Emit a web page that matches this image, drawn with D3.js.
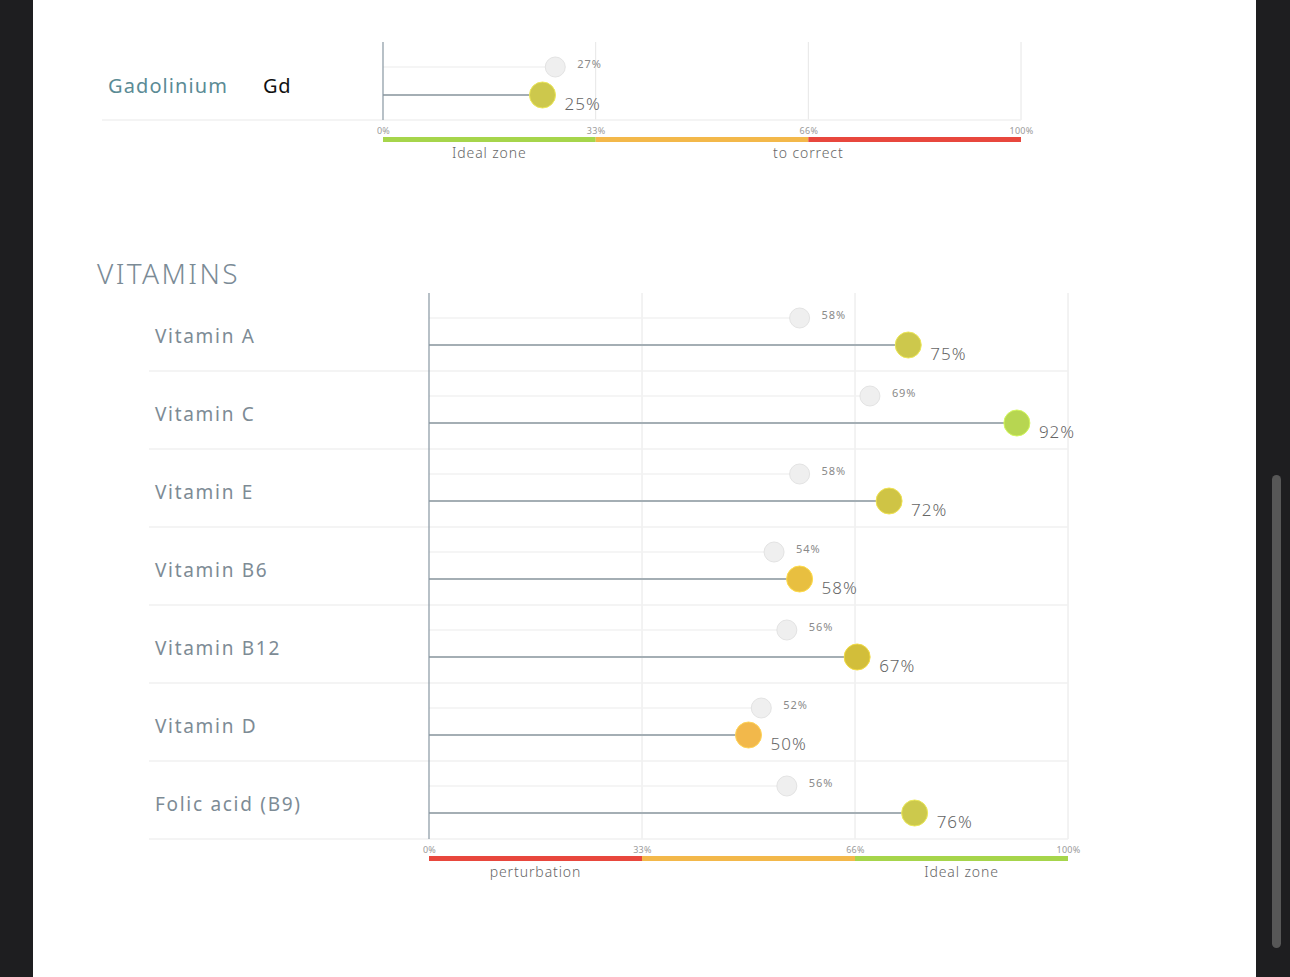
<!DOCTYPE html>
<html lang="en">
<head>
    <meta charset="UTF-8">
    <title>Gadolinium / Vitamins</title>
    <script src="https://cdn.jsdelivr.net/npm/d3@7"></script>
    <style>
        body { margin: 0; background: #1e1e20; overflow: hidden; }
        svg { display: block; font-family: "Noto Sans", "Open Sans", sans-serif; }
        .grid line { stroke: #e6e6e6; stroke-width: 1; }
        .axis path, .axis line { display: none; }
        .axis text { font-size: 9px; fill: #9a9a9a; font-family: "Noto Sans", sans-serif; letter-spacing: 0.3px; }
        .row-sep { stroke: #f0f0f0; stroke-width: 1.5; }
        .zone-label { font-size: 14px; fill: #666; text-anchor: middle; font-weight: 300; letter-spacing: 0.9px; }
    </style>
</head>
<body>
<script>
    /* ---------------- data ---------------- */
    let elementName = ["Gadolinium"],
        elementSymbol = ["Gd"],
        elementCurrent = [25],
        elementPrevious = [27];

    let vitamins = ["Vitamin A", "Vitamin C", "Vitamin E", "Vitamin B6", "Vitamin B12", "Vitamin D", "Folic acid (B9)"],
        vitaminCurrent = [75, 92, 72, 58, 67, 50, 76],
        vitaminPrevious = [58, 69, 58, 54, 56, 52, 56];

    let tickValues = [0, 100 / 3, 200 / 3, 100],
        tickLabels = ["0%", "33%", "66%", "100%"];

    // zone bands: [from, to, kind]
    let elementZones = [[0, 100 / 3, "ideal"], [100 / 3, 200 / 3, "warn"], [200 / 3, 100, "bad"]],
        vitaminZones = [[0, 100 / 3, "bad"], [100 / 3, 200 / 3, "warn"], [200 / 3, 100, "ideal"]];

    let elementZoneText = [[0, 100 / 3, "Ideal zone"], [100 / 3, 100, "to correct"]],
        vitaminZoneText = [[0, 100 / 3, "perturbation"], [200 / 3, 100, "Ideal zone"]];

    /* ---------------- colours ---------------- */
    let zoneColor = d3.scaleOrdinal()
        .domain(["ideal", "warn", "bad"])
        .range(["#a6d54b", "#f3b84a", "#e8473d"]);

    // dot colour from a "goodness" score 0..100
    let dotColor = d3.scaleLinear()
        .domain([50, 58, 67, 75, 92])
        .range(["#f2b84b", "#e8bf40", "#d2be3a", "#cdc84c", "#b7d651"])
        .clamp(true);

    /* ---------------- page ---------------- */
    let W = 1290, H = 977;
    let svg = d3.select("body").append("svg").attr("width", W).attr("height", H);

    svg.append("rect").attr("x", 33).attr("y", 0).attr("width", 1223).attr("height", H).attr("fill", "#ffffff");
    // scrollbar thumb
    svg.append("rect").attr("x", 1272).attr("y", 475).attr("width", 9).attr("height", 473)
        .attr("rx", 4.5).attr("fill", "#575757");

    /* draw one lollipop block */
    function drawBlock(opt) {
        let x = d3.scaleLinear().domain([0, 100]).range([opt.x0, opt.x1]);
        let y = d3.scaleBand().domain(d3.range(opt.rows.length)).range([opt.top, opt.top + opt.rowH * opt.rows.length]);
        let bottom = opt.top + opt.rowH * opt.rows.length;

        let g = svg.append("g");

        // vertical gridlines
        g.append("g").attr("class", "grid")
            .selectAll("line").data(tickValues.slice(1)).join("line")
            .attr("x1", d => x(d)).attr("x2", d => x(d))
            .attr("y1", opt.top).attr("y2", bottom);

        // row separators
        g.selectAll(".row-sep").data(opt.rows).join("line")
            .attr("class", "row-sep")
            .attr("x1", opt.sepX0).attr("x2", x(100))
            .attr("y1", (d, i) => y(i) + opt.rowH).attr("y2", (d, i) => y(i) + opt.rowH);

        let rows = g.selectAll(".row").data(opt.rows).join("g")
            .attr("class", "row")
            .attr("transform", (d, i) => `translate(0, ${y(i)})`);

        // labels
        rows.append("text")
            .attr("x", opt.labelX).attr("y", opt.labelY)
            .attr("dy", "0.35em")
            .attr("font-size", opt.labelSize)
            .attr("letter-spacing", opt.labelSpacing)
            .attr("fill", opt.labelColor)
            .text(d => d.name);

        if (opt.symbolX) {
            rows.append("text")
                .attr("x", opt.symbolX).attr("y", opt.labelY)
                .attr("dy", "0.35em")
                .attr("font-size", opt.labelSize)
                .attr("letter-spacing", 0.8)
                .attr("fill", "#111")
                .text(d => d.symbol);
        }

        // previous (faint)
        rows.append("line")
            .attr("x1", x(0)).attr("x2", d => x(d.prev))
            .attr("y1", opt.prevY).attr("y2", opt.prevY)
            .attr("stroke", "#f2f2f2").attr("stroke-width", 1.5);
        rows.append("circle")
            .attr("cx", d => x(d.prev)).attr("cy", opt.prevY).attr("r", 10)
            .attr("fill", "#efefef").attr("stroke", "#e3e3e3").attr("stroke-width", 1);
        rows.append("text")
            .attr("x", d => x(d.prev) + 22).attr("y", opt.prevY - 3)
            .attr("dy", "0.35em")
            .attr("font-size", 11).attr("fill", "#8a8a8a").attr("letter-spacing", 0.9)
            .text(d => d.prev + "%");

        // current
        rows.append("line")
            .attr("x1", x(0)).attr("x2", d => x(d.cur))
            .attr("y1", opt.curY).attr("y2", opt.curY)
            .attr("stroke", "#a4aeb4").attr("stroke-width", 2);
        rows.append("circle")
            .attr("cx", d => x(d.cur)).attr("cy", opt.curY).attr("r", 13)
            .attr("fill", d => dotColor(opt.score(d.cur)))
            .attr("stroke", d => d3.color(dotColor(opt.score(d.cur))).brighter(0.4))
            .attr("stroke-width", 1);
        rows.append("text")
            .attr("x", d => x(d.cur) + 22).attr("y", opt.curY + 9)
            .attr("dy", "0.35em")
            .attr("font-size", 17).attr("fill", "#666").attr("font-weight", 300).attr("letter-spacing", 1)
            .text(d => d.cur + "%");

        // left axis line
        g.append("line")
            .attr("x1", x(0)).attr("x2", x(0))
            .attr("y1", opt.top).attr("y2", bottom)
            .attr("stroke", "#8897a2").attr("stroke-width", 1.2);

        // bottom tick labels
        g.append("g").attr("class", "axis")
            .attr("transform", `translate(0, ${bottom})`)
            .call(d3.axisBottom(x).tickValues(tickValues).tickSize(0).tickPadding(8)
                .tickFormat((d, i) => tickLabels[i]));

        // zone bar
        g.selectAll(".zone").data(opt.zones).join("rect")
            .attr("class", "zone")
            .attr("x", d => x(d[0])).attr("width", d => x(d[1]) - x(d[0]))
            .attr("y", bottom + 17).attr("height", 5)
            .attr("fill", d => zoneColor(d[2]));

        g.selectAll(".zone-label").data(opt.zoneText).join("text")
            .attr("class", "zone-label")
            .attr("x", d => (x(d[0]) + x(d[1])) / 2)
            .attr("y", bottom + 33)
            .attr("dy", "0.35em")
            .text(d => d[2]);
    }

    /* ---------------- Gadolinium ---------------- */
    drawBlock({
        rows: elementName.map((n, i) => ({ name: n, symbol: elementSymbol[i], cur: elementCurrent[i], prev: elementPrevious[i] })),
        x0: 383, x1: 1021, top: 42, rowH: 78,
        sepX0: 102, labelX: 108, symbolX: 263, labelY: 44, labelSize: 20, labelSpacing: 1.1, labelColor: "#5b8b95",
        prevY: 25, curY: 53,
        score: v => 100 - v,
        zones: elementZones, zoneText: elementZoneText
    });

    /* ---------------- Vitamins ---------------- */
    svg.append("text")
        .attr("x", 97).attr("y", 284)
        .attr("font-size", 28).attr("fill", "#7b8b96").attr("font-weight", 300)
        .attr("letter-spacing", 2.4)
        .text("VITAMINS");

    drawBlock({
        rows: vitamins.map((n, i) => ({ name: n, cur: vitaminCurrent[i], prev: vitaminPrevious[i] })),
        x0: 429, x1: 1068, top: 293, rowH: 78,
        sepX0: 149, labelX: 155, labelY: 43, labelSize: 19, labelSpacing: 1.7, labelColor: "#7d8b95",
        prevY: 25, curY: 52,
        score: v => v,
        zones: vitaminZones, zoneText: vitaminZoneText
    });
</script>
</body>
</html>
